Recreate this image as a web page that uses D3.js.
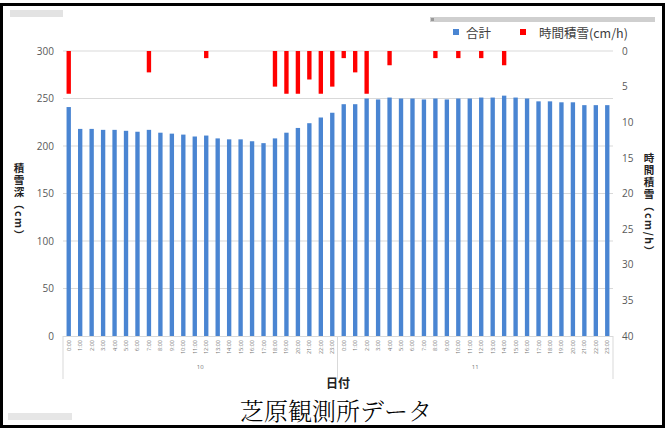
<!DOCTYPE html>
<html>
<head>
<meta charset="utf-8">
<script src="https://cdn.jsdelivr.net/npm/d3@7"></script>
<style>
  html, body { margin: 0; padding: 0; background: #fff; }
  svg { display: block; }
  .vtitle { writing-mode: vertical-rl; text-orientation: mixed; letter-spacing: 1.5px; }
</style>
</head>
<body>
<svg id="chart" width="665" height="428"></svg>
<script>
// Hourly snow depth at the Shibahara station, two days of readings
const days = ["10", "11"];
const hourLabels = ["0:00","1:00","2:00","3:00","4:00","5:00","6:00","7:00","8:00","9:00","10:00","11:00",
                    "12:00","13:00","14:00","15:00","16:00","17:00","18:00","19:00","20:00","21:00","22:00","23:00"];
// 合計: total snow depth (cm)
const totalDay10 = [241,218,218,217,217,216,215,217,214,213,212,210,211,208,207,207,205,203,208,214,219,224,230,235];
const totalDay11 = [244,244,250,249,251,250,250,249,250,249,250,250,251,251,253,251,250,247,247,246,246,243,243,243];
// 時間積雪: hourly snowfall (cm/h)
const hourlyDay10 = [6,0,0,0,0,0,0,3,0,0,0,0,1,0,0,0,0,0,5,6,6,4,6,5];
const hourlyDay11 = [1,3,6,0,2,0,0,0,1,0,1,0,1,0,2,0,0,0,0,0,0,0,0,0];
const leftTicks = [0,50,100,150,200,250,300];
const rightTicks = [0,5,10,15,20,25,30,35,40];

const rows = [];
days.forEach((d, di) => {
  hourLabels.forEach((h, hi) => {
    rows.push({
      key: d + "-" + h, day: d, hour: h,
      total: di === 0 ? totalDay10[hi] : totalDay11[hi],
      hourly: di === 0 ? hourlyDay10[hi] : hourlyDay11[hi]
    });
  });
});

const svg = d3.select("#chart");
const plot = { left: 63, right: 613, top: 51, bottom: 336 };
const blue = "#4a85d2", red = "#ff0000";
const axisColor = "#595959";
const latin = "Open Sans, Liberation Sans, sans-serif";

// frame
svg.append("rect").attr("x", 1.5).attr("y", 4.5).attr("width", 662).attr("height", 422)
  .attr("fill", "#fff").attr("stroke", "#000").attr("stroke-width", 3);

// small toolbar boxes
svg.append("rect").attr("x", 10).attr("y", 10).attr("width", 53).attr("height", 7).attr("fill", "#e3e3e3");
svg.append("rect").attr("x", 8).attr("y", 413).attr("width", 64).attr("height", 7).attr("fill", "#e6e6e6");
svg.append("rect").attr("x", 430).attr("y", 17).attr("width", 225).attr("height", 5).attr("fill", "#cfcfcf");
svg.append("rect").attr("x", 431).attr("y", 18).attr("width", 3).attr("height", 3).attr("fill", "#999");

const x = d3.scaleBand().domain(rows.map(r => r.key)).range([plot.left, plot.right]).paddingInner(0.62).paddingOuter(0.31);
const yL = d3.scaleLinear().domain([0, 300]).range([plot.bottom, plot.top]);
const yR = d3.scaleLinear().domain([0, 40]).range([plot.top, plot.bottom]);

// gridlines
svg.append("g").selectAll("line").data(leftTicks.filter(t => t > 0)).join("line")
  .attr("x1", plot.left).attr("x2", plot.right)
  .attr("y1", d => yL(d)).attr("y2", d => yL(d))
  .attr("stroke", "#d9d9d9").attr("stroke-width", 1);

// left axis
const gL = svg.append("g").attr("transform", `translate(${plot.left - 8},0)`)
  .call(d3.axisLeft(yL).tickValues(leftTicks).tickSize(0).tickPadding(1));
gL.select(".domain").remove();
gL.selectAll("text").attr("fill", axisColor).attr("font-family", latin).attr("font-size", 10);

// right axis
const gR = svg.append("g").attr("transform", `translate(${plot.right + 8},0)`)
  .call(d3.axisRight(yR).tickValues(rightTicks).tickSize(0).tickPadding(1));
gR.select(".domain").remove();
gR.selectAll("text").attr("fill", axisColor).attr("font-family", latin).attr("font-size", 10);

// total bars
svg.append("g").selectAll("rect").data(rows).join("rect")
  .attr("x", d => x(d.key)).attr("width", x.bandwidth())
  .attr("y", d => yL(d.total)).attr("height", d => yL(0) - yL(d.total))
  .attr("fill", blue);

// hourly snowfall bars hang from the top (reversed secondary axis)
svg.append("g").selectAll("rect").data(rows.filter(r => r.hourly > 0)).join("rect")
  .attr("x", d => x(d.key)).attr("width", x.bandwidth())
  .attr("y", yR(0)).attr("height", d => yR(d.hourly) - yR(0))
  .attr("fill", red);

// x axis line and group separators
svg.append("line").attr("x1", plot.left).attr("x2", plot.right).attr("y1", plot.bottom + 0.5).attr("y2", plot.bottom + 0.5)
  .attr("stroke", "#d9d9d9");
const sepX = [plot.left, x(rows[24].key) - x.step() * x.paddingInner() / 2 - 0.5, plot.right];
svg.append("g").selectAll("line").data(sepX).join("line")
  .attr("x1", d => d).attr("x2", d => d).attr("y1", plot.bottom).attr("y2", 379)
  .attr("stroke", "#d9d9d9");

// hour labels (rotated)
svg.append("g").selectAll("text").data(rows).join("text")
  .attr("transform", d => `translate(${x(d.key) + x.bandwidth() / 2 + 2},${plot.bottom + 4}) rotate(-90)`)
  .attr("text-anchor", "end")
  .attr("font-family", latin).attr("font-size", 5.5)
  .attr("fill", "#777").text(d => d.hour);

// day labels
svg.append("g").selectAll("text").data(days).join("text")
  .attr("x", (d, i) => (sepX[i] + sepX[i + 1]) / 2).attr("y", 369)
  .attr("text-anchor", "middle").attr("font-family", latin)
  .attr("font-size", 6).attr("fill", "#777").text(d => d);

// x axis title
svg.append("text").attr("x", 338).attr("y", 388).attr("text-anchor", "middle")
  .attr("font-family", "Noto Sans CJK JP").attr("font-weight", "bold").attr("font-size", 12)
  .attr("fill", "#222").text("日付");

// vertical axis titles
svg.append("text").attr("class", "vtitle").attr("x", 19).attr("y", 163)
  .attr("font-family", "Noto Sans CJK JP").attr("font-weight", "bold").attr("font-size", 10.5)
  .attr("fill", "#222").text("積雪深（cm）");
svg.append("text").attr("class", "vtitle").attr("x", 649).attr("y", 153)
  .attr("font-family", "Noto Sans CJK JP").attr("font-weight", "bold").attr("font-size", 10.5)
  .attr("fill", "#222").text("時間積雪（cm/h）");

// legend
const legend = svg.append("g").attr("font-family", "Noto Sans CJK JP").attr("font-size", 12.5).attr("fill", "#404040");
legend.append("rect").attr("x", 453).attr("y", 29).attr("width", 6).attr("height", 6).attr("fill", blue);
legend.append("text").attr("x", 466).attr("y", 37.5).text("合計");
legend.append("rect").attr("x", 520).attr("y", 29).attr("width", 6).attr("height", 6).attr("fill", red);
legend.append("text").attr("x", 539).attr("y", 37.5).text("時間積雪(cm/h)");

// caption
svg.append("text").attr("x", 336).attr("y", 420).attr("text-anchor", "middle")
  .attr("font-family", "Noto Serif CJK JP, Noto Sans CJK JP").attr("font-size", 24)
  .attr("font-weight", 300).attr("fill", "#000").text("芝原観測所データ");
</script>
</body>
</html>
